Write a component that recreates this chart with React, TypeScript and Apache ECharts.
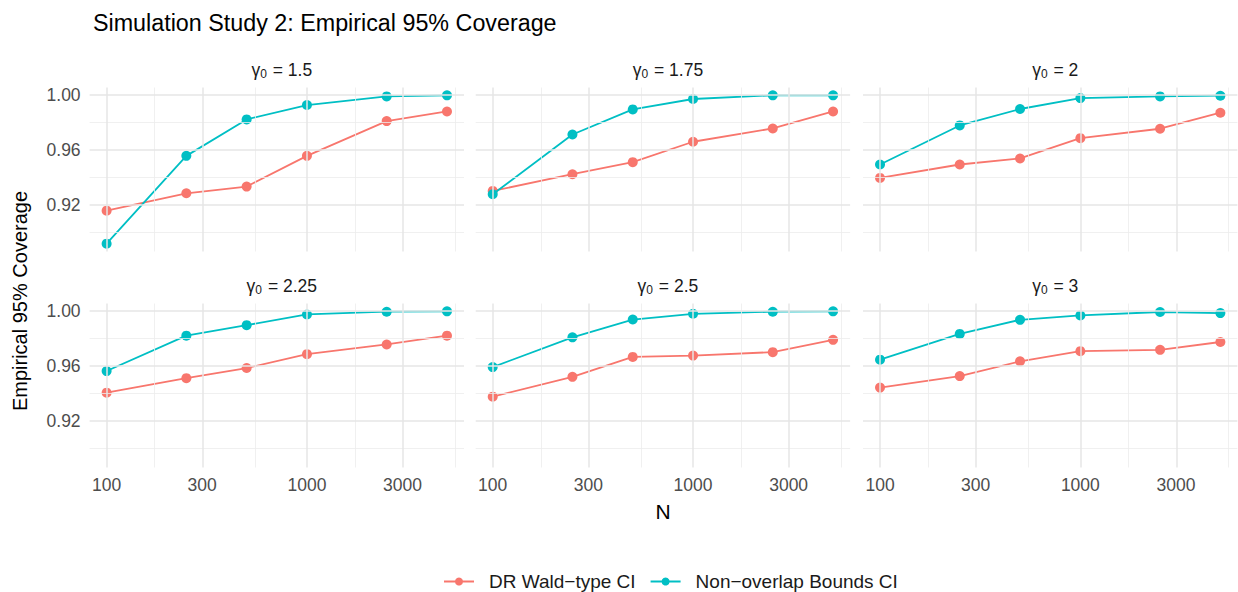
import React, { useEffect, useRef } from "react";
import * as echarts from "echarts";

const N = [100, 250, 500, 1000, 2500, 5000];
const gammaLabels = ["1.5", "1.75", "2", "2.25", "2.5", "3"];
const seriesNames = ["DR Wald\u2212type CI", "Non\u2212overlap Bounds CI"];

const waldCI_g1_5 = [0.9156, 0.9283, 0.9332, 0.9556, 0.981, 0.988];
const boundsCI_g1_5 = [0.8915, 0.9556, 0.9822, 0.9927, 0.999, 0.9998];
const waldCI_g1_75 = [0.93, 0.9422, 0.951, 0.9659, 0.9756, 0.988];
const boundsCI_g1_75 = [0.9276, 0.9712, 0.9895, 0.9971, 0.9998, 0.9998];
const waldCI_g2 = [0.9395, 0.9493, 0.9537, 0.9685, 0.9754, 0.9871];
const boundsCI_g2 = [0.9493, 0.9778, 0.9898, 0.9978, 0.999, 0.9995];
const waldCI_g2_25 = [0.9404, 0.951, 0.9584, 0.9685, 0.9756, 0.982];
const boundsCI_g2_25 = [0.9562, 0.982, 0.9897, 0.9975, 0.9995, 0.9998];
const waldCI_g2_5 = [0.9375, 0.952, 0.9665, 0.9675, 0.97, 0.979];
const boundsCI_g2_5 = [0.9591, 0.9808, 0.9938, 0.998, 0.9995, 0.9998];
const waldCI_g3 = [0.9441, 0.9525, 0.9633, 0.9707, 0.9717, 0.9774];
const boundsCI_g3 = [0.9645, 0.9833, 0.9936, 0.9968, 0.9993, 0.9985];

const waldPanels = [waldCI_g1_5, waldCI_g1_75, waldCI_g2, waldCI_g2_25, waldCI_g2_5, waldCI_g3];
const boundsPanels = [boundsCI_g1_5, boundsCI_g1_75, boundsCI_g2, boundsCI_g2_25, boundsCI_g2_5, boundsCI_g3];

const xMajorTicks = [100, 300, 1000, 3000];
const xMinorTicks = [173.2, 547.7, 1732, 5477];
const yMajorTicks = [0.92, 0.96, 1.0];
const yMinorTicks = [0.9, 0.94, 0.98];

const COLORS = ["#F8766D", "#00BFC4"];
const FONT = "'Liberation Sans', Arial, Helvetica, sans-serif";

export default function App() {
  const ref = useRef<HTMLDivElement>(null);

  useEffect(() => {
    if (!ref.current) return;
    const chart = echarts.init(ref.current, undefined, { renderer: "svg" });

    const lo = Math.log10(N[0]);
    const hi = Math.log10(N[N.length - 1]);
    const pad = (hi - lo) * 0.05;
    const xMin = lo - pad;
    const xMax = hi + pad;
    const yMin = 0.8858;
    const yMax = 1.0055;

    const lefts = [89.6, 475.7, 863];
    const tops = [87.5, 303.5];
    const width = 374.4;
    const height = 164;

    const grids: any[] = [];
    const xAxes: any[] = [];
    const yAxes: any[] = [];
    const series: any[] = [];
    const titles: any[] = [
      {
        text: "Simulation Study 2: Empirical 95% Coverage",
        left: 88,
        top: 6,
        textStyle: { fontFamily: FONT, fontSize: 23.3, fontWeight: "normal", color: "#000" },
      },
    ];

    for (let p = 0; p < 6; p++) {
      const row = Math.floor(p / 3);
      const col = p % 3;
      grids.push({ left: lefts[col], top: tops[row], width, height, containLabel: false });
      xAxes.push({
        type: "value",
        gridIndex: p,
        min: xMin,
        max: xMax,
        axisLine: { show: false },
        axisTick: { show: false },
        splitLine: { show: false },
        axisLabel: {
          show: row === 1,
          customValues: xMajorTicks.map((v) => Math.log10(v)),
          formatter: (v: number) => String(Math.round(Math.pow(10, v))),
          fontFamily: FONT,
          fontSize: 17.5,
          color: "#4d4d4d",
          margin: 8,
        },
      });
      yAxes.push({
        type: "value",
        gridIndex: p,
        min: yMin,
        max: yMax,
        axisLine: { show: false },
        axisTick: { show: false },
        splitLine: { show: false },
        axisLabel: {
          show: col === 0,
          customValues: yMajorTicks,
          formatter: (v: number) => v.toFixed(2),
          fontFamily: FONT,
          fontSize: 17.5,
          color: "#4d4d4d",
          margin: 9,
        },
      });

      const gridLines: any[] = [];
      yMinorTicks.forEach((v) => gridLines.push({ yAxis: v, lineStyle: { color: "#ececec", width: 0.8, type: "solid" } }));
      xMinorTicks.forEach((v) => gridLines.push({ xAxis: Math.log10(v), lineStyle: { color: "#ececec", width: 0.8, type: "solid" } }));
      yMajorTicks.forEach((v) => gridLines.push({ yAxis: v, lineStyle: { color: "#e6e6e6", width: 1.5, type: "solid" } }));
      xMajorTicks.forEach((v) => gridLines.push({ xAxis: Math.log10(v), lineStyle: { color: "#e6e6e6", width: 1.5, type: "solid" } }));

      series.push({
        type: "line",
        xAxisIndex: p,
        yAxisIndex: p,
        data: [],
        z: 1,
        silent: true,
        markLine: {
          silent: true,
          symbol: ["none", "none"],
          label: { show: false },
          animation: false,
          data: gridLines,
        },
      });

      [waldPanels[p], boundsPanels[p]].forEach((vals, k) => {
        series.push({
          name: seriesNames[k],
          type: "line",
          xAxisIndex: p,
          yAxisIndex: p,
          z: 3 + k,
          symbol: "circle",
          symbolSize: 10,
          showSymbol: true,
          color: COLORS[k],
          lineStyle: { width: 1.8, color: COLORS[k] },
          itemStyle: { color: COLORS[k], borderWidth: 0, opacity: 1 },
          data: N.map((n, i) => [Math.log10(n), vals[i]]),
        });
      });

      titles.push({
        text: `{g|\u03b3}{s|0}{g| = ${gammaLabels[p]}}`,
        left: lefts[col] + width / 2,
        top: row === 0 ? 54 : 270,
        textAlign: "center",
        textStyle: {
          fontWeight: "normal",
          rich: {
            g: { fontFamily: FONT, fontSize: 17.5, fontWeight: "normal", color: "#1a1a1a" },
            s: { fontFamily: FONT, fontSize: 12, fontWeight: "normal", color: "#1a1a1a", verticalAlign: "bottom", padding: [9, 1, 0, 0] },
          },
        },
      });
    }

    chart.setOption({
      animation: false,
      backgroundColor: "#ffffff",
      title: titles,
      grid: grids,
      xAxis: xAxes,
      yAxis: yAxes,
      series,
      legend: {
        data: seriesNames,
        left: 438,
        top: 567,
        itemWidth: 30,
        itemHeight: 10,
        itemGap: 14,
        textStyle: { fontFamily: FONT, fontSize: 19, color: "#1a1a1a", padding: [0, 0, 0, 10] },
      },
      graphic: [
        {
          type: "text",
          x: 20,
          y: 301,
          rotation: Math.PI / 2,
          style: {
            text: "Empirical 95% Coverage",
            fontFamily: FONT,
            fontSize: 20,
            fill: "#000",
            textAlign: "center",
            textVerticalAlign: "middle",
          },
        },
        {
          type: "text",
          x: 663,
          y: 511,
          style: {
            text: "N",
            fontFamily: FONT,
            fontSize: 21,
            fill: "#000",
            textAlign: "center",
            textVerticalAlign: "middle",
          },
        },
      ],
    });

    return () => chart.dispose();
  }, []);

  return (
    <div
      ref={ref}
      style={{ position: "fixed", left: 0, top: 0, width: 1238, height: 592, background: "#fff" }}
    />
  );
}
